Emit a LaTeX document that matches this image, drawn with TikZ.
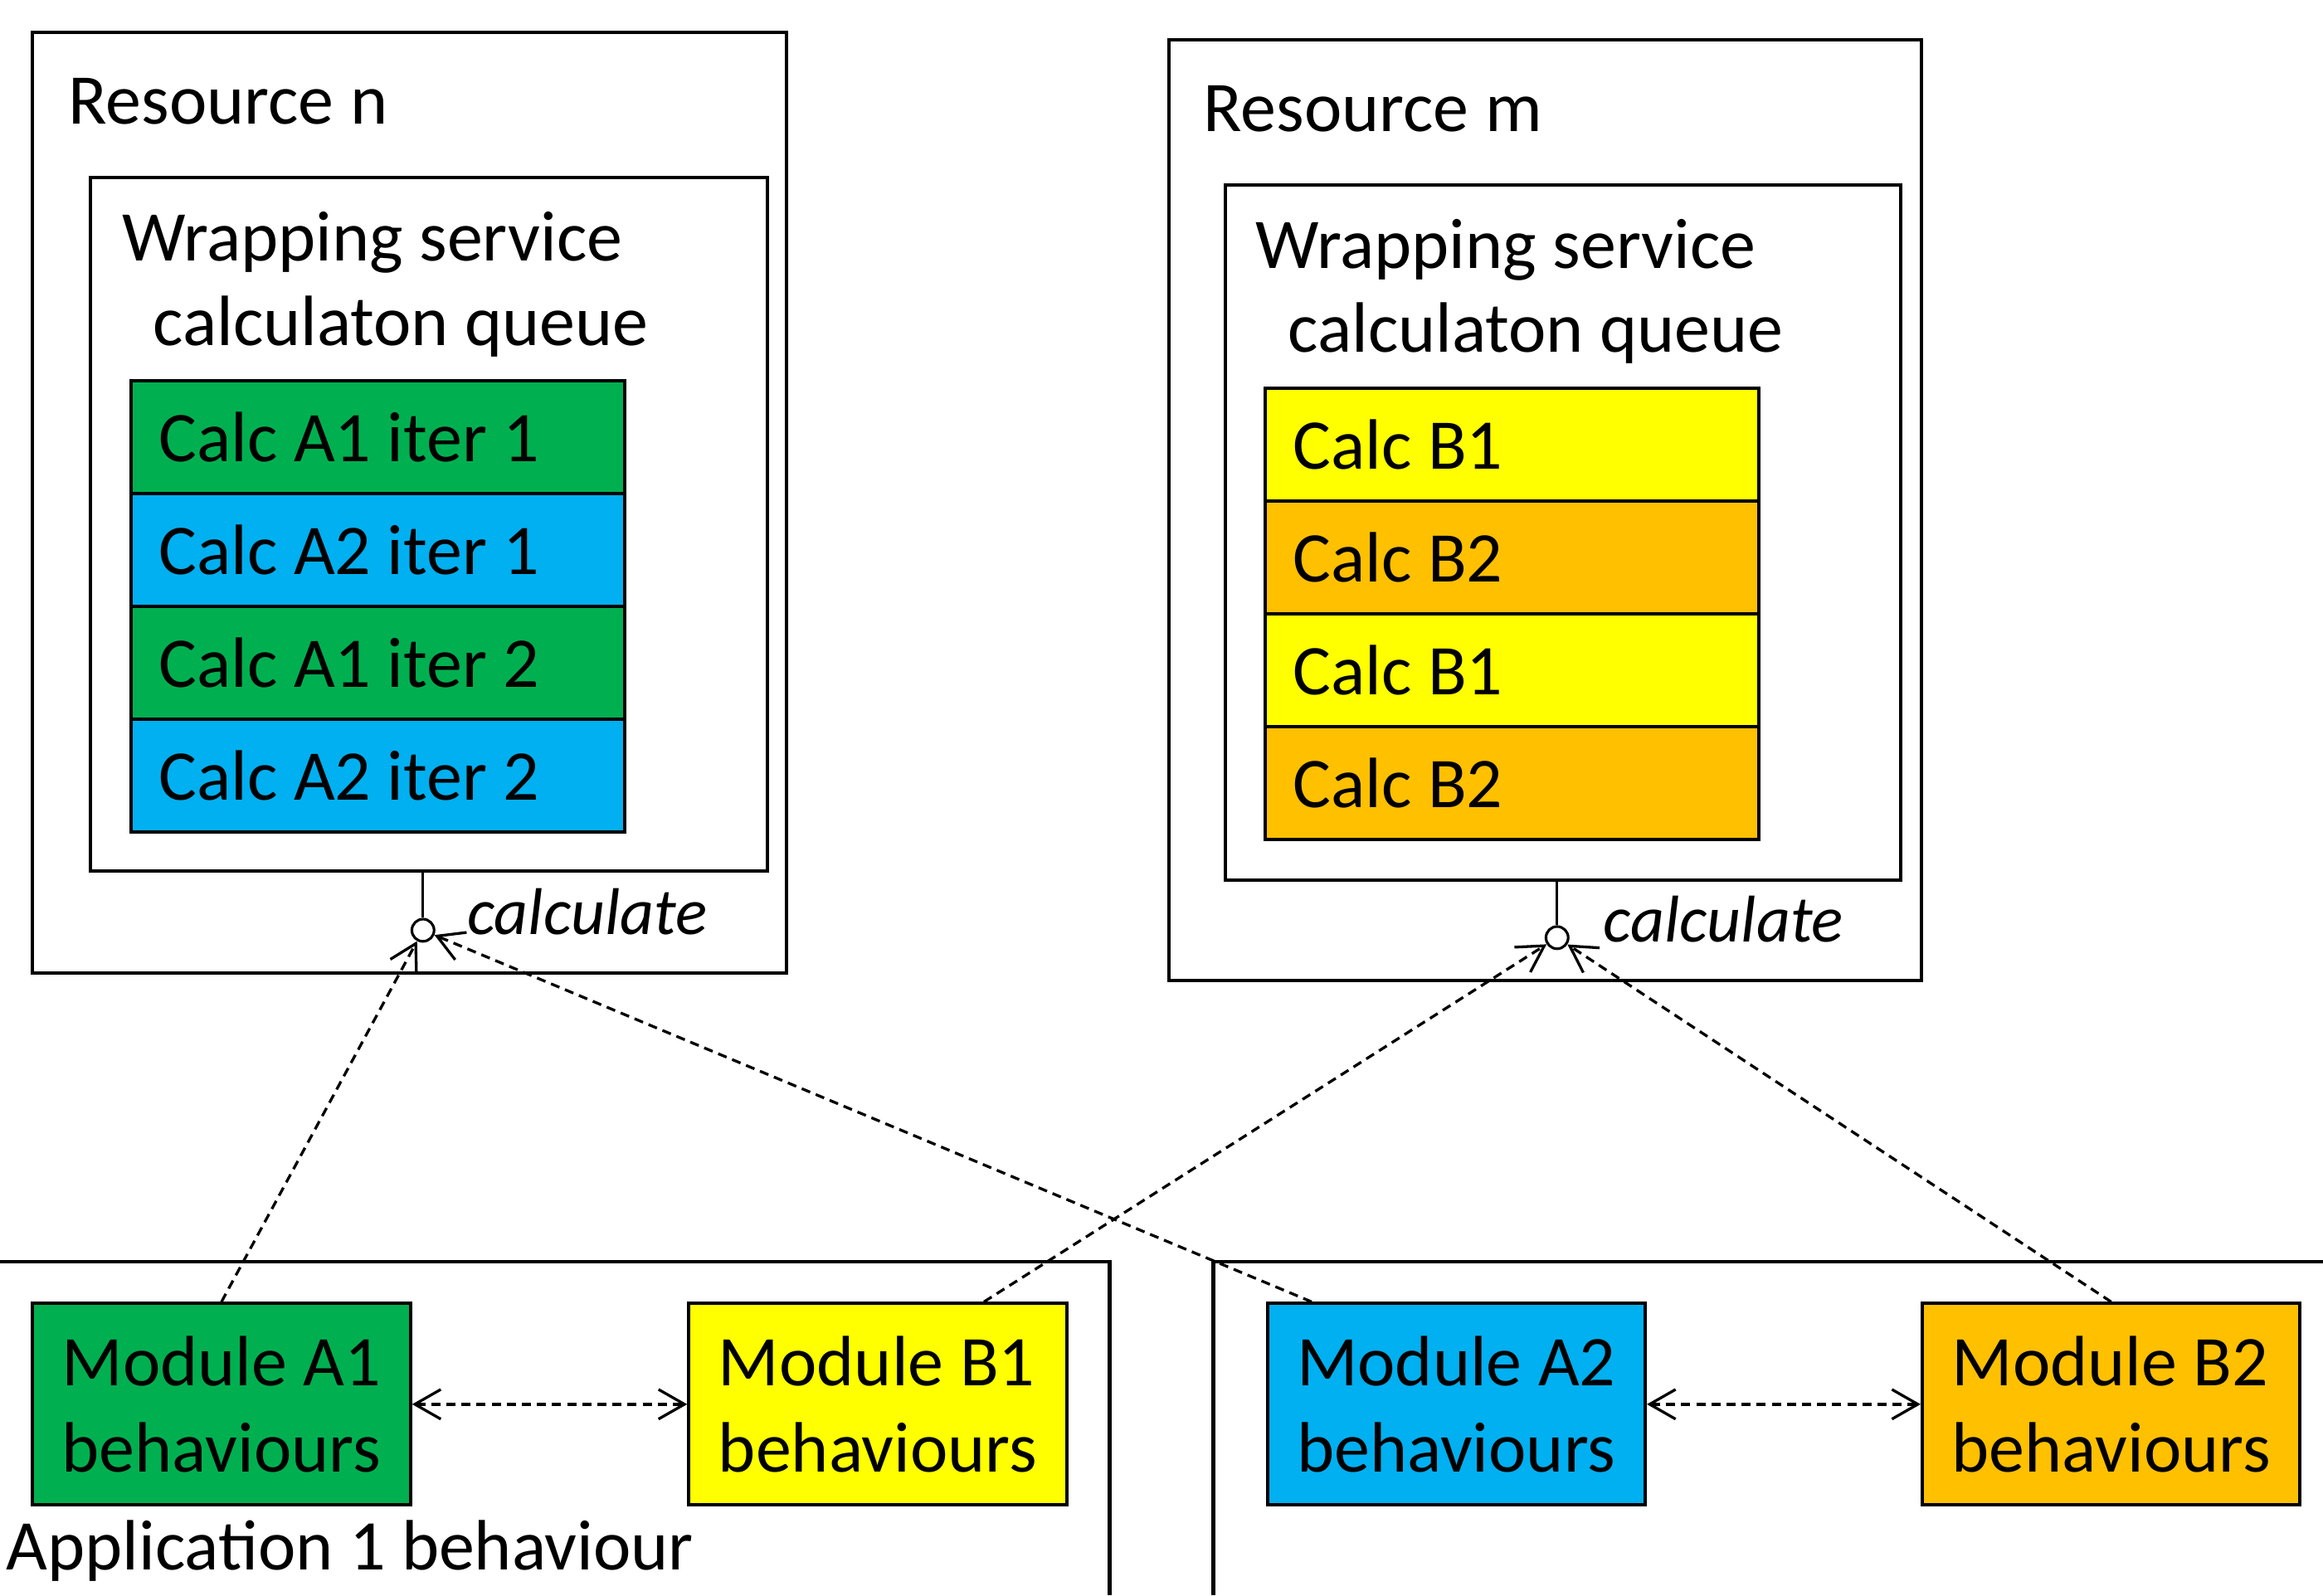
\documentclass[tikz,border=0pt]{standalone}
\usepackage{fontspec}
\setmainfont{Carlito}
\usetikzlibrary{arrows.meta}
\definecolor{calcgreen}{HTML}{00B050}
\definecolor{calcblue}{HTML}{00B0F0}
\definecolor{calcyellow}{HTML}{FFFF00}
\definecolor{calcorange}{HTML}{FFC000}
\newcommand{\rowtext}[1]{\makebox[5.91cm][l]{#1}}
\newcommand{\modtext}[2]{\raisebox{-0.1cm}[\height][\depth]{\begin{tabular}{@{}l@{}}#1\\#2\end{tabular}}}
\tikzset{
	box/.style={draw, line width=1.3pt, inner sep=0pt},
	calcrow/.style={draw, line width=1.3pt, minimum width=6.67cm, minimum height=1.525cm, inner xsep=0.38cm, inner ysep=0pt},
	module/.style={draw, line width=1.3pt, minimum width=5.10cm, minimum height=2.72cm, inner sep=0pt},
	txt/.style={anchor=base west, inner sep=0pt},
	iface/.style={draw, circle, line width=1pt, minimum size=0.3cm, inner sep=0pt, fill=white},
	barb/.tip={Straight Barb[length=0.35cm,width=0.4cm]},
	uses/.style={line width=1.05pt, dash pattern=on 3.5pt off 2.3pt, -barb},
	talks/.style={uses, barb-barb}
}
\begin{document}
\begin{tikzpicture}[font=\fontsize{27.4}{33}\selectfont]
	\useasboundingbox (0,0) rectangle (31.36,21.54);
	\node[box, minimum width=10.18cm, minimum height=12.70cm] (resn) at (5.53,14.75) {};
	\node[txt] (resntitle) at (0.92,19.86) {Resource n};
	\node[box, minimum width=9.14cm, minimum height=9.36cm] (queuen) at (5.79,14.46) {};
	\node[txt] (queuentitle) at (1.64,18.02) {Wrapping service};
	\node[txt] (queuensub) at (2.06,16.88) {calculaton queue};
	\node[calcrow, fill=calcgreen] (qn1) at (5.10,15.64) {\rowtext{Calc A1 iter 1}};
	\node[calcrow, fill=calcblue] (qn2) at (5.10,14.115) {\rowtext{Calc A2 iter 1}};
	\node[calcrow, fill=calcgreen] (qn3) at (5.10,12.59) {\rowtext{Calc A1 iter 2}};
	\node[calcrow, fill=calcblue] (qn4) at (5.10,11.065) {\rowtext{Calc A2 iter 2}};
	\node[iface] (calcn) at (5.71,8.98) {};
	\draw[line width=1pt] (calcn |- queuen.south) -- (calcn.north);
	\node[txt, font=\fontsize{25.4}{30}\selectfont\itshape] (calcnlabel) at (6.30,8.92) {calculate};

	\node[box, minimum width=10.16cm, minimum height=12.70cm] (resm) at (20.86,14.65) {};
	\node[txt] (resmtitle) at (16.24,19.76) {Resource m};
	\node[box, minimum width=9.12cm, minimum height=9.38cm] (queuem) at (21.10,14.35) {};
	\node[txt] (queuemtitle) at (16.94,17.92) {Wrapping service};
	\node[txt] (queuemsub) at (17.38,16.78) {calculaton queue};
	\node[calcrow, fill=calcyellow] (qm1) at (20.41,15.54) {\rowtext{Calc B1}};
	\node[calcrow, fill=calcorange] (qm2) at (20.41,14.015) {\rowtext{Calc B2}};
	\node[calcrow, fill=calcyellow] (qm3) at (20.41,12.49) {\rowtext{Calc B1}};
	\node[calcrow, fill=calcorange] (qm4) at (20.41,10.965) {\rowtext{Calc B2}};
	\node[iface] (calcm) at (21.02,8.88) {};
	\draw[line width=1pt] (calcm |- queuem.south) -- (calcm.north);
	\node[txt, font=\fontsize{25.4}{30}\selectfont\itshape] (calcmlabel) at (21.64,8.82) {calculate};

	\draw[line width=1.3pt] (0,4.50) -- (14.98,4.50) -- (14.98,0);
	\draw[line width=1.3pt] (31.36,4.50) -- (16.38,4.50) -- (16.38,0);
	\node[txt] (app1) at (0.08,0.34) {Application 1 behaviour};
	\node[module, fill=calcgreen] (moda1) at (2.99,2.58) {\modtext{Module A1}{behaviours}};
	\node[module, fill=calcyellow] (modb1) at (11.85,2.58) {\modtext{Module B1}{behaviours}};
	\node[module, fill=calcblue] (moda2) at (19.66,2.58) {\modtext{Module A2}{behaviours}};
	\node[module, fill=calcorange] (modb2) at (28.50,2.58) {\modtext{Module B2}{behaviours}};

	\draw[talks] (moda1) -- (modb1);
	\draw[talks] (moda2) -- (modb2);
	\draw[uses] (moda1.north) -- (calcn);
	\draw[uses] ([xshift=0.62cm]moda2.north west) -- (calcn);
	\draw[uses] ([xshift=-1.14cm]modb1.north east) -- (calcm);
	\draw[uses] (modb2.north) -- (calcm);
\end{tikzpicture}
\end{document}
